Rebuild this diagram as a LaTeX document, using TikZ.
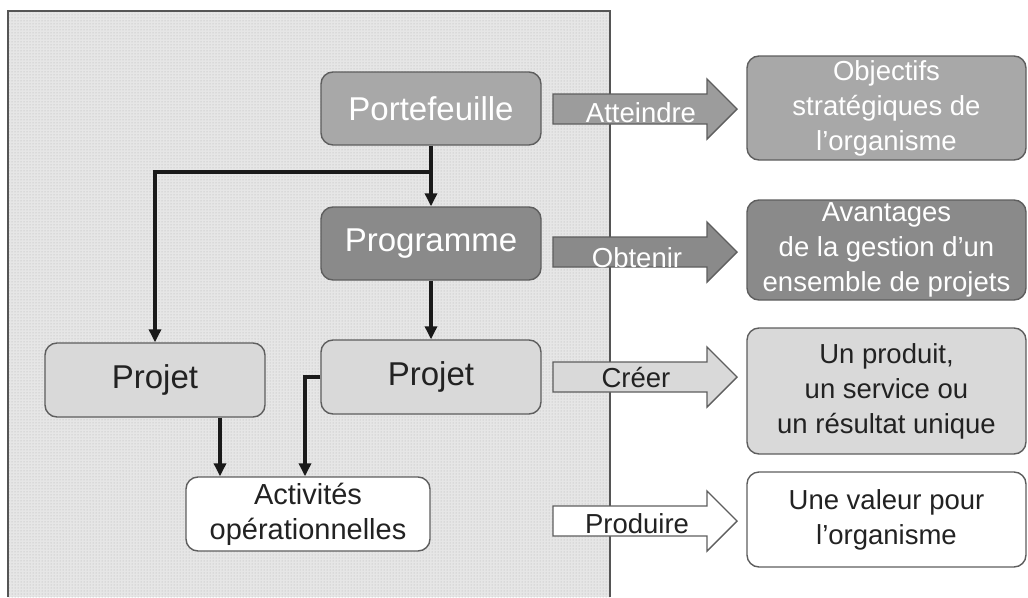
\documentclass[tikz,border=0pt]{standalone}
\usepackage{fontspec}
\setmainfont{Liberation Sans}
\usetikzlibrary{arrows.meta,patterns,calc}
\definecolor{bgfill}{HTML}{E6E6E6}
\definecolor{bgdot}{HTML}{B0B0B0}
\definecolor{frame}{HTML}{555555}
\definecolor{boxline}{HTML}{5E5E5E}
\definecolor{cPort}{HTML}{A8A8A8}
\definecolor{cProg}{HTML}{8A8A8A}
\definecolor{cProj}{HTML}{D9D9D9}
\definecolor{cArrA}{HTML}{9C9C9C}
\definecolor{cArrB}{HTML}{8A8A8A}
\definecolor{txtdark}{HTML}{222222}
\definecolor{connblack}{HTML}{1A1A1A}
\begin{document}
\begin{tikzpicture}[x=1pt,y=-1pt,
  box/.style={draw=boxline, line width=1.4pt, rounded corners=12pt, inner sep=0pt, align=center},
  bigtxt/.style={font=\fontsize{33}{38}\selectfont},
  midtxt/.style={font=\fontsize{29}{35}\selectfont},
  rtxt/.style={font=\fontsize{27.5}{35}\selectfont},
  lefbox/.style={box, minimum width=220pt, minimum height=74pt},
  rbox/.style={box, minimum width=279pt, rtxt},
  conn/.style={draw=connblack, line width=3.6pt, -{Triangle[length=13pt,width=12pt]}},
  barrow/.style={draw=boxline, line width=1.4pt, line join=miter},
  alabel/.style={font=\fontsize{27.5}{30}\selectfont, inner sep=0pt, anchor=base}
]
\useasboundingbox (0,0) rectangle (1028,597);
% background panel
\fill[bgfill] (8,11) rectangle (610,597);
\fill[pattern=dots, pattern color=bgdot] (8,11) rectangle (610,597);
\draw[frame, line width=1.5pt] (8,597) -- (8,11) -- (610,11) -- (610,597);

% left nodes
\node[lefbox, bigtxt, fill=cPort, text=white, minimum height=73pt] (port) at (431,108.5) {Portefeuille};
\node[lefbox, bigtxt, fill=cProg, text=white, minimum height=73pt] (prog) at (431,243.5) {Programme};
\node[lefbox, bigtxt, fill=cProj, text=txtdark] (pj1) at (155,380) {Projet};
\node[lefbox, bigtxt, fill=cProj, text=txtdark] (pj2) at (431,377) {Projet};
\node[box, midtxt, fill=white, text=txtdark, minimum width=244pt, minimum height=74pt] (act) at (308,514) {Activités\\opérationnelles};

% connectors
\coordinate (junc) at ($(port.south)!0.435!(prog.north)$);
\draw[conn] (port.south) -- (prog.north);
\draw[conn] (junc) -| (pj1.north);
\draw[conn] (prog.south) -- (pj2.north);
\draw[conn] ([xshift=65pt]pj1.south) -- ([xshift=65pt]pj1.south |- act.north);
\draw[conn] (pj2.west) -| ([xshift=-3pt]act.north);

% block arrows
\draw[barrow, fill=cArrA] (553,94) -- (707,94) -- (707,79) -- (737,109) -- (707,139) -- (707,124) -- (553,124) -- cycle;
\node[alabel, text=white] (lA) at (641,122) {Atteindre};
\draw[barrow, fill=cArrB] (553,237) -- (707,237) -- (707,222) -- (737,252) -- (707,282) -- (707,267) -- (553,267) -- cycle;
\node[alabel, text=white] (lB) at (637,267) {Obtenir};
\draw[barrow, fill=cProj] (553,362) -- (707,362) -- (707,347) -- (737,377) -- (707,407) -- (707,392) -- (553,392) -- cycle;
\node[alabel, text=txtdark] (lC) at (636,387) {Créer};
\draw[barrow, fill=white] (553,506) -- (707,506) -- (707,491) -- (737,521) -- (707,551) -- (707,536) -- (553,536) -- cycle;
\node[alabel, text=txtdark] (lD) at (637,533) {Produire};

% right boxes
\node[rbox, fill=cPort, text=white, minimum height=104pt] (obj) at (886.5,108) {Objectifs\\stratégiques de\\l’organisme};
\node[rbox, fill=cProg, text=white, minimum height=100pt] (ava) at (886.5,250) {Avantages\\de la gestion d’un\\ensemble de projets};
\node[rbox, fill=cProj, text=txtdark, minimum height=126pt] (res) at (886.5,391) {Un produit,\\un service ou\\un résultat unique};
\node[rbox, fill=white, text=txtdark, minimum height=95pt] (val) at (886.5,519.5) {Une valeur pour\\l’organisme};
\end{tikzpicture}
\end{document}
